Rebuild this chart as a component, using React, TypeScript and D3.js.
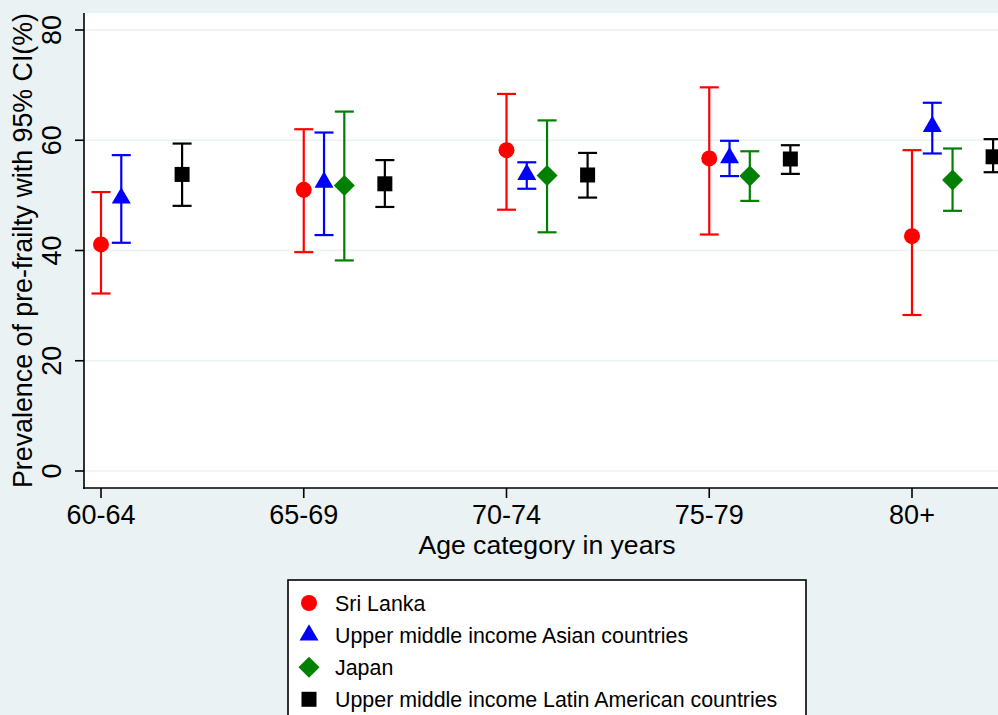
import React from "react";
import * as d3 from "d3";

const categories = ["60-64", "65-69", "70-74", "75-79", "80+"];
const seriesNames = [
  "Sri Lanka",
  "Upper middle income Asian countries",
  "Japan",
  "Upper middle income Latin American countries",
];
const seriesColors = ["#ff0000", "#0000ff", "#008000", "#000000"];
const seriesShapes = ["circle", "triangle", "diamond", "square"];
const seriesOffsets = [0, 0.1, 0.2, 0.4];

// [estimate, lower, upper] per category; null = not available
const sriLanka: ([number, number, number] | null)[] = [
  [41.1, 32.2, 50.6],
  [51.0, 39.7, 62.0],
  [58.2, 47.4, 68.4],
  [56.7, 42.9, 69.6],
  [42.6, 28.3, 58.2],
];
const asianUMI: ([number, number, number] | null)[] = [
  [49.5, 41.4, 57.3],
  [52.4, 42.8, 61.4],
  [53.8, 51.2, 56.0],
  [56.8, 53.5, 59.9],
  [62.5, 57.6, 66.8],
];
const japan: ([number, number, number] | null)[] = [
  null,
  [51.8, 38.2, 65.2],
  [53.6, 43.3, 63.6],
  [53.5, 49.0, 58.0],
  [52.8, 47.2, 58.5],
];
const latinUMI: ([number, number, number] | null)[] = [
  [53.8, 48.1, 59.4],
  [52.1, 47.9, 56.4],
  [53.7, 49.6, 57.7],
  [56.6, 53.9, 59.1],
  [57.0, 54.2, 60.2],
];
const allSeries = [sriLanka, asianUMI, japan, latinUMI];
const yTicks = [0, 20, 40, 60, 80];

const W = 998;
const H = 715;
const BG = "#eaf2f3";
const FONT = "'Liberation Sans', Arial, Helvetica, sans-serif";

function markerPath(shape: string, cx: number, cy: number): string {
  const p = d3.path();
  if (shape === "circle") {
    const r = 8;
    p.moveTo(cx + r, cy);
    p.arc(cx, cy, r, 0, Math.PI * 2);
  } else if (shape === "triangle") {
    const s = 19;
    const h = (s * Math.sqrt(3)) / 2;
    p.moveTo(cx, cy - (2 * h) / 3);
    p.lineTo(cx + s / 2, cy + h / 3);
    p.lineTo(cx - s / 2, cy + h / 3);
    p.closePath();
  } else if (shape === "diamond") {
    const r = 10.5;
    p.moveTo(cx, cy - r);
    p.lineTo(cx + r, cy);
    p.lineTo(cx, cy + r);
    p.lineTo(cx - r, cy);
    p.closePath();
  } else {
    const s = 7.5;
    p.rect(cx - s, cy - s, 2 * s, 2 * s);
  }
  return p.toString();
}

export default function App() {
  const plotLeft = 84;
  const plotTop = 13;
  const plotBottom = 488;
  const plotRight = 1012;
  const x = d3.scaleLinear().domain([1, 5]).range([101, 912]);
  const y = d3.scaleLinear().domain([0, 80]).range([471, 30]);
  const capHalf = 9.5;

  return (
    <svg
      width={W}
      height={H}
      style={{ position: "absolute", left: 0, top: 0, display: "block" }}
      fontFamily={FONT}
    >
      <rect x={0} y={0} width={W} height={H} fill={BG} />
      <rect
        x={plotLeft}
        y={plotTop}
        width={plotRight - plotLeft}
        height={plotBottom - plotTop}
        fill="#ffffff"
      />
      {/* gridlines */}
      {yTicks.map((t) => (
        <line
          key={"g" + t}
          x1={plotLeft}
          x2={plotRight}
          y1={y(t)}
          y2={y(t)}
          stroke={BG}
          strokeWidth={1.6}
        />
      ))}
      {/* error bars */}
      {allSeries.map((ser, si) =>
        ser.map((d, ci) => {
          if (!d) return null;
          const cx = x(ci + 1 + seriesOffsets[si]);
          const col = seriesColors[si];
          return (
            <g key={"e" + si + "-" + ci} stroke={col} strokeWidth={2.2}>
              <line x1={cx} x2={cx} y1={y(d[1])} y2={y(d[2])} />
              <line x1={cx - capHalf} x2={cx + capHalf} y1={y(d[1])} y2={y(d[1])} />
              <line x1={cx - capHalf} x2={cx + capHalf} y1={y(d[2])} y2={y(d[2])} />
            </g>
          );
        })
      )}
      {/* markers */}
      {allSeries.map((ser, si) =>
        ser.map((d, ci) => {
          if (!d) return null;
          const cx = x(ci + 1 + seriesOffsets[si]);
          return (
            <path
              key={"m" + si + "-" + ci}
              d={markerPath(seriesShapes[si], cx, y(d[0]))}
              fill={seriesColors[si]}
            />
          );
        })
      )}
      {/* axes */}
      <line x1={plotLeft} x2={plotLeft} y1={plotTop} y2={plotBottom + 1} stroke="#000" strokeWidth={1.6} />
      <line x1={plotLeft - 0.8} x2={plotRight} y1={plotBottom} y2={plotBottom} stroke="#000" strokeWidth={1.6} />
      {yTicks.map((t) => (
        <g key={"yt" + t}>
          <line x1={plotLeft - 9} x2={plotLeft} y1={y(t)} y2={y(t)} stroke="#000" strokeWidth={1.6} />
          <text
            transform={`translate(${plotLeft - 23},${y(t)}) rotate(-90)`}
            textAnchor="middle"
            fontSize={27}
            fill="#000"
          >
            {t}
          </text>
        </g>
      ))}
      {categories.map((c, i) => (
        <g key={"xt" + c}>
          <line x1={x(i + 1)} x2={x(i + 1)} y1={plotBottom} y2={plotBottom + 10} stroke="#000" strokeWidth={1.6} />
          <text x={x(i + 1)} y={524} textAnchor="middle" fontSize={27} fill="#000">
            {c}
          </text>
        </g>
      ))}
      <text
        transform={`translate(32,${(plotTop + plotBottom) / 2}) rotate(-90)`}
        textAnchor="middle"
        fontSize={26.8}
        fill="#000"
      >
        Prevalence of pre-frailty with 95% CI(%)
      </text>
      <text x={547} y={554} textAnchor="middle" fontSize={26.6} fill="#000">
        Age category in years
      </text>
      {/* legend */}
      <rect x={288} y={580} width={518} height={160} fill="#ffffff" stroke="#000" strokeWidth={1.6} />
      {seriesNames.map((n, i) => {
        const cy = 603 + i * 32.1;
        return (
          <g key={"l" + i}>
            <path d={markerPath(seriesShapes[i], 309, cy)} fill={seriesColors[i]} />
            <text x={335} y={cy + 7.5} fontSize={21.4} fill="#000">
              {n}
            </text>
          </g>
        );
      })}
    </svg>
  );
}
